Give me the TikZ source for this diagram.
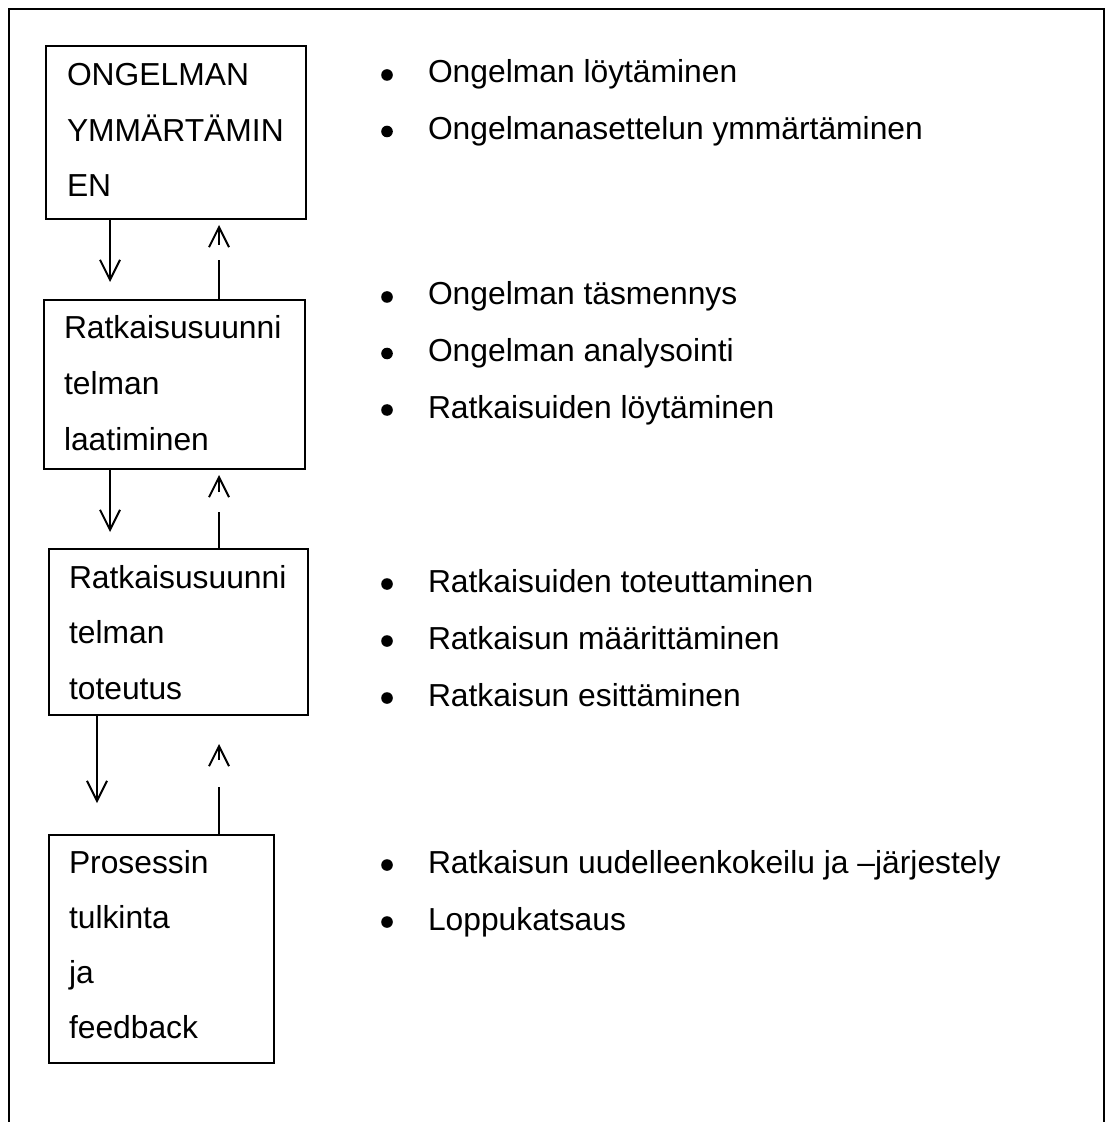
\documentclass[tikz,border=0pt]{standalone}
\usepackage{fontspec}
\setmainfont{Liberation Sans}
\usetikzlibrary{arrows.meta,calc}

\tikzset{
  every picture/.style={line width=1pt},
  vaihe/.style={draw, anchor=north west, inner sep=0pt},
  rivi/.style={anchor=base west, inner sep=0pt, font=\fontsize{15.9pt}{20pt}\selectfont},
  piste/.style={circle, fill, inner sep=0pt, minimum size=5.8pt},
  alas/.style={-{Straight Barb[length=10pt,width=10pt,line width=1pt]}},
  ylos/.style 2 args={dash pattern=on #1 off #2 on 200pt, -{Straight Barb[length=10pt,width=10pt,line width=1pt]}},
}

\begin{document}
\begin{tikzpicture}[x=0.5pt,y=0.5pt,yscale=-1]
\useasboundingbox (0,0) rectangle (1106,1122);

% open frame
\draw (9,1122) -- (9,9) -- (1104,9) -- (1104,1122);

% stages
\node[vaihe, minimum width=130pt, minimum height=86.5pt] (b1) at (45,45) {};
\node[vaihe, minimum width=130.5pt, minimum height=84.5pt] (b2) at (43,299) {};
\node[vaihe, minimum width=129.5pt, minimum height=83pt] (b3) at (48,548) {};
\node[vaihe, minimum width=112.5pt, minimum height=114pt] (b4) at (48,834) {};

% stage texts
\foreach \t [count=\i] in {ONGELMAN, YMMÄRTÄMIN, EN}
  \node[rivi] (b1t\i) at ($(b1.north west)+(21,{41+55.5*(\i-1)})$) {\t};
\foreach \t [count=\i] in {Ratkaisusuunni, telman, laatiminen}
  \node[rivi] (b2t\i) at ($(b2.north west)+(20,{40+55.5*(\i-1)})$) {\t};
\foreach \t [count=\i] in {Ratkaisusuunni, telman, toteutus}
  \node[rivi] (b3t\i) at ($(b3.north west)+(20,{40+55.5*(\i-1)})$) {\t};
\foreach \t [count=\i] in {Prosessin, tulkinta, ja, feedback}
  \node[rivi] (b4t\i) at ($(b4.north west)+(20,{39+55.2*(\i-1)})$) {\t};

% arrows between stages
\coordinate (dx1) at (110,0);
\coordinate (dx3) at (97,0);
\coordinate (ux) at (219,0);
\draw[alas, shorten >=8.5pt] (b1.south -| dx1) -- (b2.north -| dx1);
\draw[alas, shorten >=8pt] (b2.south -| dx1) -- (b3.north -| dx1);
\draw[alas, shorten >=15.5pt] (b3.south -| dx3) -- (b4.north -| dx3);
\draw[ylos={19.5pt}{7.5pt}, shorten >=2.5pt] (b2.north -| ux) -- (b1.south -| ux);
\draw[ylos={18pt}{10pt}, shorten >=2.5pt] (b3.north -| ux) -- (b2.south -| ux);
\draw[ylos={23.5pt}{13.5pt}, shorten >=14pt] (b4.north -| ux) -- (b3.south -| ux);

% bullet lists
\foreach \t [count=\i] in {Ongelman löytäminen, Ongelmanasettelun ymmärtäminen}{
  \node[piste] (p1\i) at (387,{75+56.5*(\i-1)}) {};
  \node[rivi] (k1\i) at (427,{83+56.5*(\i-1)}) {\t};
}
\foreach \t [count=\i] in {Ongelman täsmennys, Ongelman analysointi, Ratkaisuiden löytäminen}{
  \node[piste] (p2\i) at (387,{297+56.5*(\i-1)}) {};
  \node[rivi] (k2\i) at (427,{305+56.5*(\i-1)}) {\t};
}
\foreach \t [count=\i] in {Ratkaisuiden toteuttaminen, Ratkaisun määrittäminen, Ratkaisun esittäminen}{
  \node[piste] (p3\i) at (387,{584+57*(\i-1)}) {};
  \node[rivi] (k3\i) at (427,{592+57*(\i-1)}) {\t};
}
\foreach \t [count=\i] in {Ratkaisun uudelleenkokeilu ja –järjestely, Loppukatsaus}{
  \node[piste] (p4\i) at (387,{865+57*(\i-1)}) {};
  \node[rivi] (k4\i) at (427,{873+57*(\i-1)}) {\t};
}

\end{tikzpicture}
\end{document}
